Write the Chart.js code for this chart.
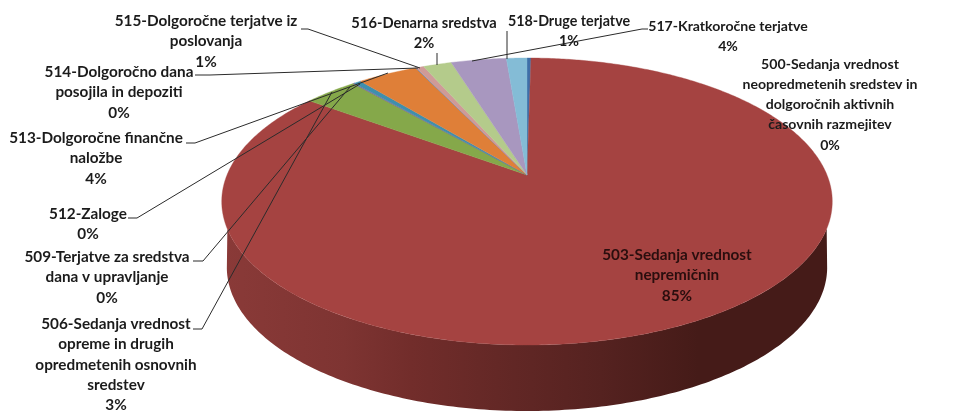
<!DOCTYPE html>
<html><head><meta charset="utf-8">
<style>html,body{margin:0;padding:0;background:#fff}canvas{display:block}</style>
<script src="https://cdn.jsdelivr.net/npm/chart.js@4"></script>
</head><body>
<canvas id="c" width="971" height="412"></canvas>
<script>
const categories = ["500","503","506","509","512","513","514","515","516","517","518"];
const values = [0.25,84.87,3.4,0.1,0.45,3.8,0.03,0.5,1.8,3.5,1.3];
const labelLines = [
 ["500-Sedanja vrednost","neopredmetenih sredstev in","dolgoročnih aktivnih","časovnih razmejitev"],
 ["503-Sedanja vrednost","nepremičnin"],
 ["506-Sedanja vrednost","opreme in drugih","opredmetenih osnovnih","sredstev"],
 ["509-Terjatve za sredstva","dana v upravljanje"],
 ["512-Zaloge"],
 ["513-Dolgoročne finančne","naložbe"],
 ["514-Dolgoročno dana","posojila in depoziti"],
 ["515-Dolgoročne terjatve iz","poslovanja"],
 ["516-Denarna sredstva"],
 ["517-Kratkoročne terjatve"],
 ["518-Druge terjatve"]
];
const percentLabels = ["0%","85%","3%","0%","0%","4%","0%","1%","2%","4%","1%"];
const colors = ["#3F6FA8","#A54341","#85A84A","#7A5F9A","#3F8FAD","#DF7F38","#4A7FB8","#CF9A98","#B4CB8B","#A897BF","#84BCD6"];

const labelPos = [[830,64],[677,255],[116,324],[107,257],[88,214],[96,138],[119,72],[206,21],[424,23],[728,26],[569,21]];
const labelSize = [14.1,15.3,15.3,15.3,15.3,15.3,15.3,15.3,14.7,14.1,14.3];
const leaders = [
 null,null,
 [[193,329],[202,329],[332,92]],
 [[193,261],[203,261],[350,87]],
 [[128,218],[137,218],[360,84]],
 [[186,143],[195,143],[388,73]],
 [[195,75],[210,75],[418,68]],
 [[301,29],[308,29],[420,68]],
 [[437,53],[437,65]],
 [[648,29],[642,29],[472,61]],
 [[507,31],[507,59]]
];

const CX=527, CY=175, PX=300, PA=138.6, PC=-0.1847, DEPTH=66, WALL_X=295;
function project(a){
  const u=Math.cos(a), v=Math.sin(a), w=1+PC*v;
  return [CX+PX*u/w, CY+PA*v/w];
}
function wallPoint(a){
  const u=Math.cos(a), v=Math.sin(a), w=1+PC*v;
  return [CX+WALL_X*u/w, CY+PA*v/w+DEPTH];
}
function sideWall(ctx,start,end){
  const top=[],bot=[];
  const n=360;
  const xMax=WALL_X*1.0175;
  for(let i=0;i<=n;i++){
    const a=start+(end-start)*i/n;
    if(Math.sin(a)<-PC) continue;
    const p=project(a), q=wallPoint(a);
    if(Math.abs(p[0]-CX)<=xMax) top.push(p);
    bot.push(q);
  }
  if(!bot.length) return;
  const g=ctx.createLinearGradient(222,0,833,0);
  g.addColorStop(0,"#8A3A38");g.addColorStop(0.2,"#7E3432");g.addColorStop(0.31,"#722D2B");
  g.addColorStop(0.45,"#642826");g.addColorStop(0.62,"#552220");g.addColorStop(0.78,"#451B18");g.addColorStop(1,"#451B18");
  ctx.beginPath();
  top.forEach((p,i)=>i?ctx.lineTo(p[0],p[1]):ctx.moveTo(p[0],p[1]));
  bot.reverse().forEach(p=>ctx.lineTo(p[0],p[1]));
  ctx.closePath();
  ctx.fillStyle=g;ctx.fill();
}
const ArcEl = Chart.registry.getElement('arc');
ArcEl.prototype.draw = function(ctx){
  const {startAngle,endAngle}=this.getProps(['startAngle','endAngle'],true);
  const col=this.options.backgroundColor;
  sideWall(ctx,startAngle,endAngle);
  const n=Math.max(4,Math.ceil((endAngle-startAngle)/0.01));
  ctx.beginPath();
  ctx.moveTo(CX,CY);
  for(let i=0;i<=n;i++){
    const p=project(startAngle+(endAngle-startAngle)*i/n);
    ctx.lineTo(p[0],p[1]);
  }
  ctx.closePath();
  ctx.fillStyle=col;ctx.fill();
  ctx.strokeStyle=col;ctx.lineWidth=0.4;ctx.stroke();
};

const textPlugin={
  id:'labels3d',
  afterDraw(chart){
    const ctx=chart.ctx;
    ctx.save();
    ctx.lineWidth=1;ctx.strokeStyle="#2b2b2b";
    leaders.forEach(l=>{
      if(!l)return;
      ctx.beginPath();
      l.forEach((p,i)=>i?ctx.lineTo(p[0],p[1]):ctx.moveTo(p[0],p[1]));
      ctx.stroke();
    });
    ctx.textAlign='center';ctx.textBaseline='middle';
    labelLines.forEach((lines,i)=>{
      ctx.font='bold '+labelSize[i]+'px Lato';
      ctx.fillStyle=i===1?"#2A0E0E":"#1B1B1B";
      const [x,y]=labelPos[i];
      const all=lines.concat(percentLabels[i]);
      all.forEach((t,k)=>ctx.fillText(t,x,y+k*20.3));
    });
    ctx.restore();
  }
};

new Chart(document.getElementById('c'),{
  type:'pie',
  data:{labels:categories,datasets:[{data:values,backgroundColor:colors,borderWidth:0}]},
  options:{responsive:false,animation:false,rotation:0,
    plugins:{legend:{display:false},tooltip:{enabled:false}}},
  plugins:[textPlugin]
});
</script>
</body></html>
